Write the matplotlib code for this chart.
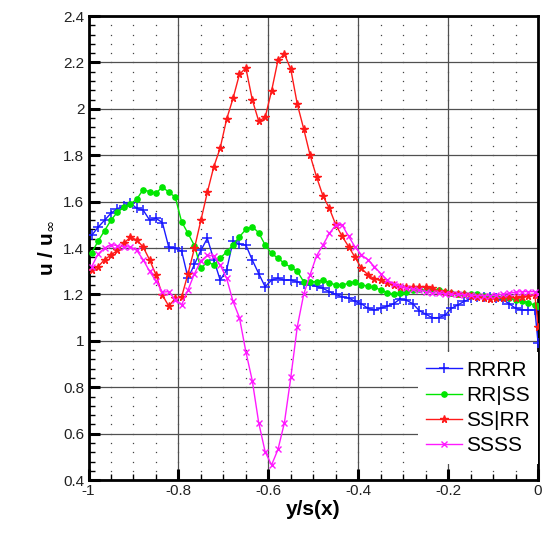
import numpy as np
import matplotlib.pyplot as plt
from matplotlib.ticker import MultipleLocator, FuncFormatter

plt.rcParams['font.family'] = ['Liberation Sans', 'DejaVu Sans']
plt.rcParams['axes.unicode_minus'] = False

# station positions: 70 points across the span plus the wall at y/s = 0
y_s = np.append(-1 + (np.arange(70) + 0.5) / 70, 0.0)

rrrr = [1.455, 1.49, 1.52, 1.55, 1.57, 1.58, 1.595, 1.571, 1.564, 1.521,
        1.528, 1.51, 1.403, 1.399, 1.387, 1.27, 1.33, 1.39, 1.442, 1.35,
        1.262, 1.305, 1.43, 1.417, 1.413, 1.348, 1.29, 1.233, 1.262, 1.269,
        1.262, 1.262, 1.255, 1.245, 1.24, 1.235, 1.226, 1.212, 1.2, 1.19,
        1.185, 1.17, 1.16, 1.14, 1.133, 1.14, 1.15, 1.16, 1.18, 1.175,
        1.16, 1.13, 1.115, 1.10, 1.10, 1.11, 1.14, 1.155, 1.17, 1.183,
        1.19, 1.19, 1.19, 1.183, 1.178, 1.16, 1.14, 1.133, 1.133, 1.133,
        0.99]

rr_ss = [1.38, 1.43, 1.475, 1.52, 1.555, 1.575, 1.59, 1.61, 1.652, 1.643,
         1.636, 1.664, 1.64, 1.62, 1.513, 1.463, 1.41, 1.312, 1.341, 1.327,
         1.356, 1.384, 1.413, 1.449, 1.48, 1.492, 1.466, 1.413, 1.377, 1.356,
         1.334, 1.317, 1.30, 1.255, 1.255, 1.255, 1.262, 1.25, 1.241, 1.241,
         1.248, 1.255, 1.241, 1.236, 1.23, 1.22, 1.207, 1.202, 1.205, 1.21,
         1.218, 1.222, 1.219, 1.219, 1.219, 1.21, 1.205, 1.2, 1.2, 1.2,
         1.2, 1.195, 1.19, 1.19, 1.19, 1.183, 1.176, 1.173, 1.162, 1.155,
         1.15]

ss_rr = [1.305, 1.32, 1.35, 1.37, 1.39, 1.42, 1.447, 1.435, 1.405, 1.35,
         1.285, 1.197, 1.15, 1.183, 1.19, 1.29, 1.40, 1.52, 1.64, 1.75,
         1.831, 1.955, 2.045, 2.149, 2.176, 2.039, 1.947, 1.963, 2.077, 2.21,
         2.236, 2.17, 2.021, 1.914, 1.80, 1.707, 1.625, 1.571, 1.50, 1.45,
         1.406, 1.36, 1.312, 1.285, 1.267, 1.262, 1.25, 1.241, 1.233, 1.232,
         1.23, 1.232, 1.23, 1.226, 1.215, 1.21, 1.205, 1.203, 1.2, 1.195,
         1.19, 1.183, 1.179, 1.183, 1.186, 1.19, 1.186, 1.19, 1.193, 1.197,
         1.06]

ssss = [1.32, 1.375, 1.40, 1.415, 1.41, 1.405, 1.405, 1.39, 1.35, 1.30,
        1.258, 1.21, 1.212, 1.178, 1.155, 1.22, 1.29, 1.345, 1.368, 1.366,
        1.327, 1.27, 1.17, 1.10, 0.953, 0.828, 0.647, 0.522, 0.465, 0.532,
        0.647, 0.843, 1.06, 1.20, 1.285, 1.366, 1.413, 1.463, 1.499, 1.499,
        1.45, 1.405, 1.37, 1.35, 1.32, 1.29, 1.262, 1.245, 1.236, 1.228,
        1.222, 1.218, 1.212, 1.207, 1.205, 1.203, 1.2, 1.2, 1.198, 1.197,
        1.195, 1.195, 1.195, 1.197, 1.2, 1.205, 1.21, 1.212, 1.212, 1.212,
        1.2]

fig = plt.figure(figsize=(5.43, 5.34), dpi=100)
ax = fig.add_axes([0.163, 0.101, 0.828, 0.869])

ax.set_xlim(-1, 0)
ax.set_ylim(0.4, 2.4)
ax.xaxis.set_major_locator(MultipleLocator(0.2))
ax.xaxis.set_minor_locator(MultipleLocator(0.05))
ax.yaxis.set_major_locator(MultipleLocator(0.2))
ax.yaxis.set_minor_locator(MultipleLocator(0.04))
fmt = FuncFormatter(lambda v, p: '%g' % round(v, 2))
ax.xaxis.set_major_formatter(fmt)
ax.yaxis.set_major_formatter(fmt)

# major grid lines and the dotted minor lattice
ax.grid(True, which='major', color='#505050', linewidth=0.9, zorder=0)
mx = np.arange(-0.95, 0, 0.05)
my = np.arange(0.44, 2.4, 0.04)
gx, gy = np.meshgrid(mx, my)
ax.plot(gx.ravel(), gy.ravel(), linestyle='none', marker='s', markersize=0.9,
        color='#444444', markeredgewidth=0, zorder=0.5)

ax.plot(y_s, rrrr, color='#1a1aff', linewidth=1.0, marker='+', markersize=6.5,
        markeredgewidth=1.1, label='RRRR', zorder=3)
ax.plot(y_s, rr_ss, color='#00e600', linewidth=1.0, marker='o', markersize=3.8,
        label='RR|SS', zorder=3)
ax.plot(y_s, ss_rr, color='#ff1a1a', linewidth=1.0, marker='*', markersize=5.5,
        label='SS|RR', zorder=3)
ax.plot(y_s, ssss, color='#ff1aff', linewidth=1.0, marker='x', markersize=4.5,
        markeredgewidth=1.0, label='SSSS', zorder=3)

for s in ax.spines.values():
    s.set_linewidth(2)
ax.tick_params(which='major', direction='in', length=8, width=2.2,
               labelsize=11, labelcolor='#222222', pad=3)
ax.tick_params(which='minor', direction='in', length=4, width=1)
ax.tick_params(top=False, right=False, which='both')

ax.set_xlabel('y/s(x)', fontsize=15, fontweight='bold', labelpad=1)
ax.set_ylabel(r'u / u$_\infty$', fontsize=15, fontweight='bold', labelpad=6)

leg = ax.legend(loc='lower right', bbox_to_anchor=(1.0, 0.035), borderaxespad=0,
                fontsize=15, handlelength=1.7, labelspacing=0.3, handletextpad=0.2,
                borderpad=0.4, fancybox=False, framealpha=1, edgecolor='none')

fig.savefig('out.png', dpi=100)
